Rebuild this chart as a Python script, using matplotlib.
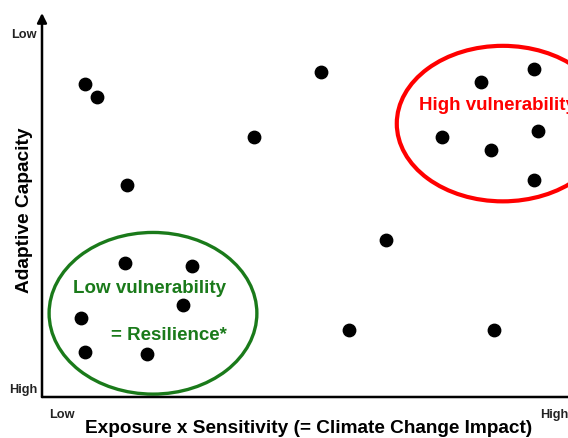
import matplotlib
matplotlib.use("Agg")
import matplotlib.pyplot as plt
from matplotlib.patches import Ellipse

plt.rcParams['font.family'] = ['Liberation Sans', 'DejaVu Sans']

# point positions (0-10 scale, x = exposure x sensitivity, y = position on adaptive capacity axis)
xs = [0.82, 1.05, 1.62, 4.03, 5.30, 6.54, 5.84, 8.59,
      1.58, 2.85, 2.68, 0.74, 0.82, 2.00,
      8.35, 9.35, 7.60, 8.54, 9.43, 9.35]
ys = [8.16, 7.82, 5.51, 6.78, 8.47, 4.08, 1.74, 1.74,
      3.48, 3.40, 2.39, 2.05, 1.17, 1.12,
      8.21, 8.55, 6.78, 6.44, 6.94, 5.66]

# group outlines: (center x, center y, width, height)
high_group = (8.76, 7.12, 4.03, 4.05)
low_group = (2.11, 2.18, 3.95, 4.21)

fig = plt.figure(figsize=(5.68, 4.39), dpi=100)
W, H = 568.0, 439.0
ax = fig.add_axes([42 / W, (H - 398) / H, (568 - 42) / W, (398 - 14) / H])
ax.set_xlim(0, 10)
ax.set_ylim(0, 10)
ax.axis('off')

ax.scatter(xs, ys, s=80, color='black', zorder=3, clip_on=False)

cx, cy, w, h = high_group
ax.add_patch(Ellipse((cx, cy), w, h, fill=False, edgecolor='#ff0000', lw=3, clip_on=False))
cx, cy, w, h = low_group
ax.add_patch(Ellipse((cx, cy), w, h, fill=False, edgecolor='#1a7a1a', lw=2.4, clip_on=False))

ax.text(7.17, 7.62, "High vulnerability", color='#ff0000', fontsize=13.5, fontweight='bold',
        va='center', ha='left', clip_on=False)
ax.text(0.59, 2.86, "Low vulnerability", color='#1a7a1a', fontsize=13.5, fontweight='bold',
        va='center', ha='left')
ax.text(1.31, 1.64, "= Resilience*", color='#1a7a1a', fontsize=13.5, fontweight='bold',
        va='center', ha='left')

# axes with arrows
arrow = dict(arrowstyle='-|>', lw=1.8, color='black', mutation_scale=14, shrinkA=0, shrinkB=0)
ax.annotate("", xy=(0, 1.0), xytext=(0, 0), xycoords='axes fraction', arrowprops=arrow)
ax.annotate("", xy=(1.025, 0), xytext=(0, 0), xycoords='axes fraction', arrowprops=arrow)

fig.text(24 / W, 1 - 35 / H, "Low", fontsize=9.2, fontweight='bold', ha='center', va='center', color='#222222')
fig.text(23 / W, 1 - 390 / H, "High", fontsize=9.2, fontweight='bold', ha='center', va='center', color='#222222')
fig.text(62 / W, 1 - 415 / H, "Low", fontsize=9.2, fontweight='bold', ha='center', va='center', color='#222222')
fig.text(554 / W, 1 - 415 / H, "High", fontsize=9.2, fontweight='bold', ha='center', va='center', color='#222222')

fig.text(25 / W, 1 - 210 / H, "Adaptive Capacity", fontsize=13.8, fontweight='bold',
         rotation=90, ha='center', va='center')
fig.text(309 / W, 1 - 429 / H, "Exposure x Sensitivity (= Climate Change Impact)", fontsize=13.7,
         fontweight='bold', ha='center', va='center')

fig.savefig("out.png", dpi=100)
